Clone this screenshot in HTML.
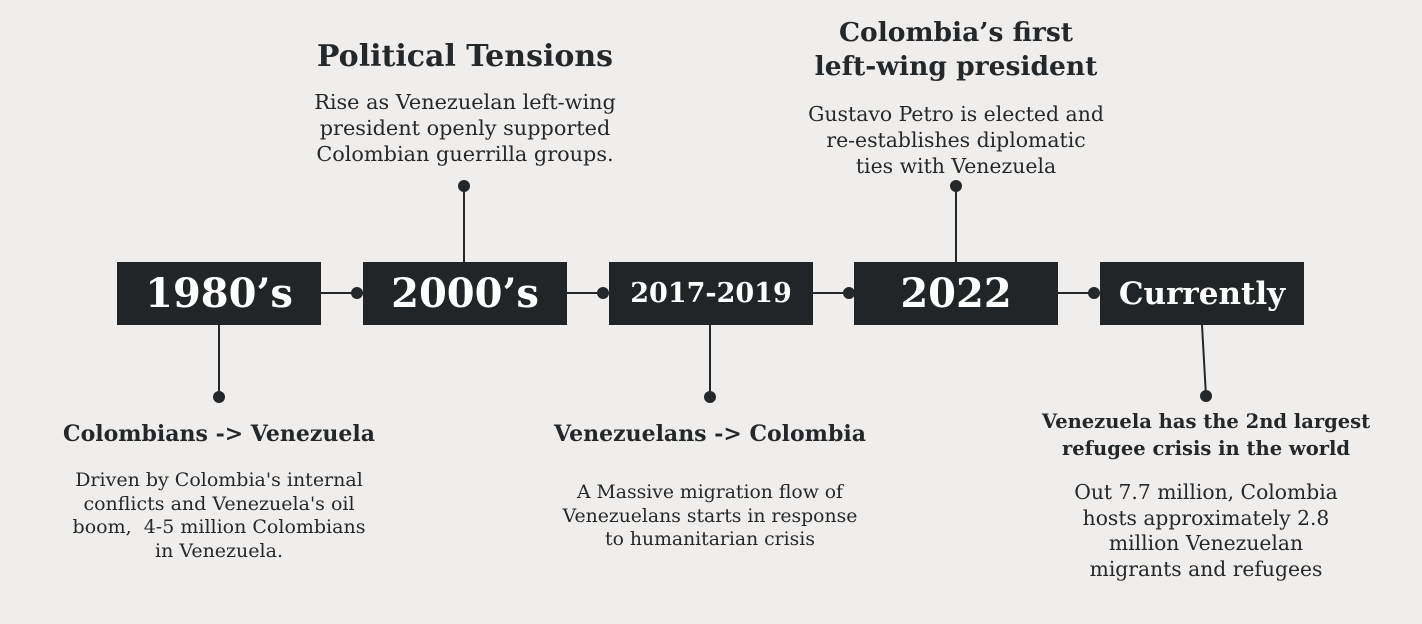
<!DOCTYPE html>
<html><head><meta charset="utf-8">
<style>
html,body{margin:0;padding:0}
body{width:1422px;height:624px;background:#efeeec;position:relative;overflow:hidden;font-family:"DejaVu Serif","Liberation Serif",serif;color:#25282b}
.t{position:absolute;transform:translateX(-50%);text-align:center;white-space:nowrap}
.box{position:absolute;top:262px;height:63px;width:204px;background:#222528;color:#fff;font-weight:bold;display:flex;align-items:center;justify-content:center}
svg{position:absolute;left:0;top:0}
</style></head><body>
<svg width="1422" height="624">
<g stroke="#25282b" stroke-width="2" fill="#25282b">
<line x1="321" y1="293" x2="363" y2="293"/><circle cx="357" cy="293" r="5"/>
<line x1="566" y1="293" x2="609" y2="293"/><circle cx="603" cy="293" r="5"/>
<line x1="812" y1="293" x2="854" y2="293"/><circle cx="849" cy="293" r="5"/>
<line x1="1058" y1="293" x2="1100" y2="293"/><circle cx="1094" cy="293" r="5"/>
<line x1="219" y1="325" x2="219" y2="397"/><circle cx="219" cy="397" r="5"/>
<line x1="464" y1="186" x2="464" y2="262"/><circle cx="464" cy="186" r="5"/>
<line x1="710" y1="325" x2="710" y2="397"/><circle cx="710" cy="397" r="5"/>
<line x1="956" y1="186" x2="956" y2="262"/><circle cx="956" cy="186" r="5"/>
<line x1="1202" y1="325" x2="1206" y2="396"/><circle cx="1206" cy="396" r="5"/>
</g></svg>

<div class="box" style="left:117px;font-size:40px">1980’s</div>
<div class="box" style="left:363px;font-size:40px">2000’s</div>
<div class="box" style="left:609px;font-size:27px">2017-2019</div>
<div class="box" style="left:854px;font-size:40px">2022</div>
<div class="box" style="left:1100px;font-size:31px">Currently</div>

<div class="t" style="left:465px;top:39px;font-size:30px;font-weight:bold">Political Tensions</div>
<div class="t" style="left:465px;top:89px;font-size:20.8px;line-height:26px">Rise as Venezuelan left-wing<br>president openly supported<br>Colombian guerrilla groups.</div>

<div class="t" style="left:956px;top:16px;font-size:26.5px;font-weight:bold;line-height:34px">Colombia’s first<br>left-wing president</div>
<div class="t" style="left:956px;top:101px;font-size:20.4px;line-height:26px">Gustavo Petro is elected and<br>re-establishes diplomatic<br>ties with Venezuela</div>

<div class="t" style="left:219px;top:421px;font-size:22px;font-weight:bold">Colombians -&gt; Venezuela</div>
<div class="t" style="left:219px;top:469px;font-size:19px;line-height:23.5px">Driven by Colombia's internal<br>conflicts and Venezuela's oil<br>boom,&nbsp; 4-5 million Colombians<br>in Venezuela.</div>

<div class="t" style="left:710px;top:421px;font-size:22px;font-weight:bold">Venezuelans -&gt; Colombia</div>
<div class="t" style="left:710px;top:481px;font-size:18.8px;line-height:23.5px">A Massive migration flow of<br>Venezuelans starts in response<br>to humanitarian crisis</div>

<div class="t" style="left:1206px;top:408px;font-size:19.5px;font-weight:bold;line-height:27px">Venezuela has the 2nd largest<br>refugee crisis in the world</div>
<div class="t" style="left:1206px;top:480px;font-size:20.3px;line-height:25.7px">Out 7.7 million, Colombia<br>hosts approximately 2.8<br>million Venezuelan<br>migrants and refugees</div>

<script>
const eras = ["1980’s","2000’s","2017-2019","2022","Currently"];
const eventTitles = ["Colombians -> Venezuela","Political Tensions","Venezuelans -> Colombia","Colombia’s first left-wing president","Venezuela has the 2nd largest refugee crisis in the world"];
</script>
</body></html>
